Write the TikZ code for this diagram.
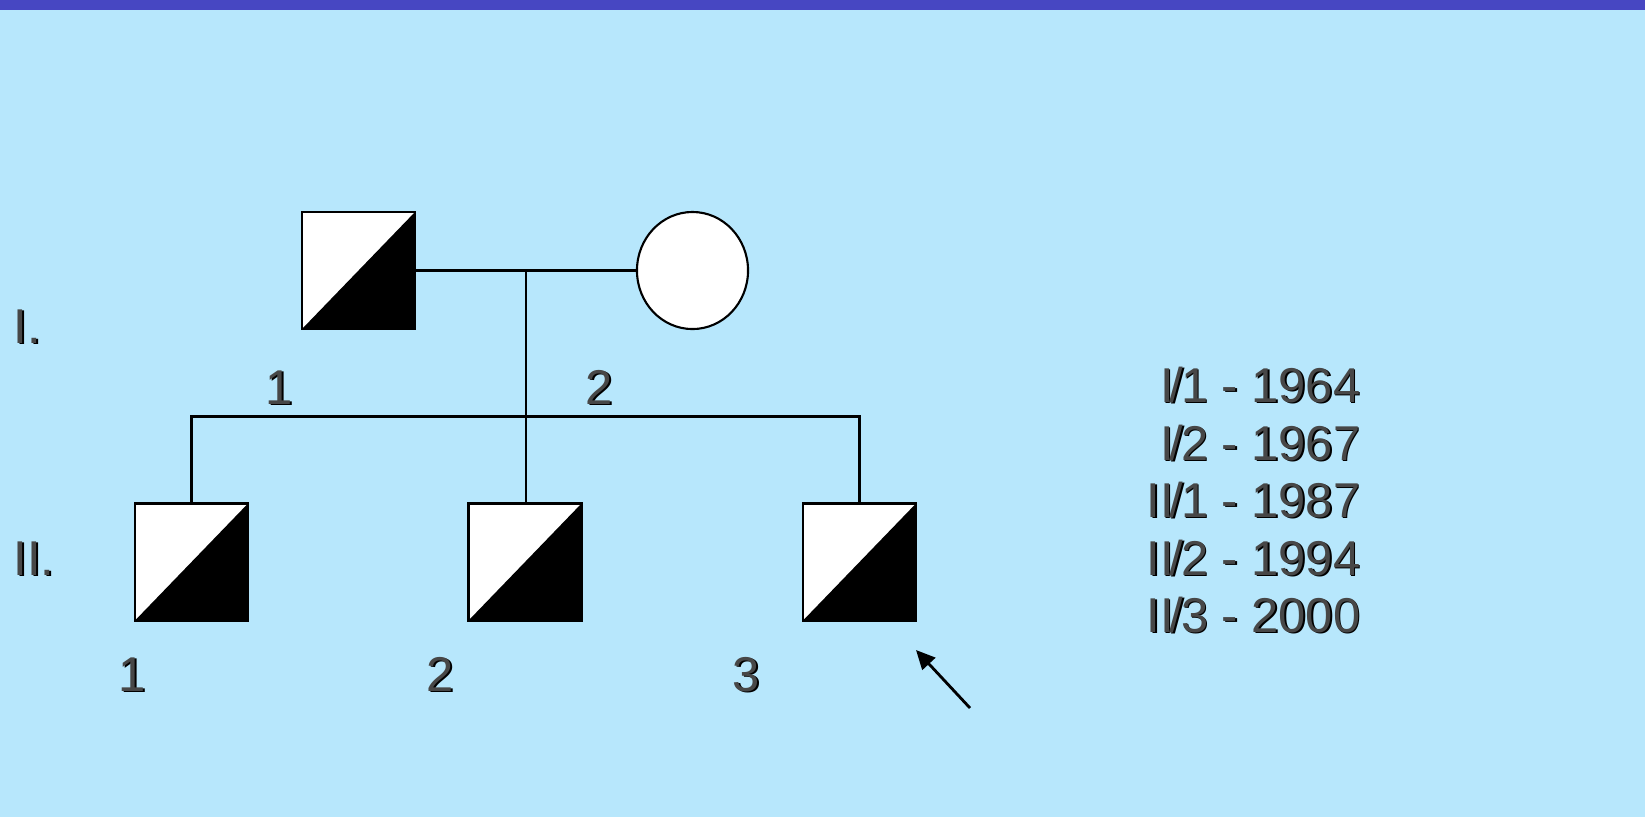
\documentclass[tikz,border=0pt]{standalone}
\usepackage{fontspec}
\setmainfont{Liberation Sans}
\usepackage{tikz}
\usetikzlibrary{arrows.meta, positioning, shapes.geometric, calc}
\definecolor{pedbg}{HTML}{B7E7FC}
\definecolor{pedbar}{HTML}{4747C2}
\definecolor{pedtext}{HTML}{474747}
\newcommand{\shadowtxt}[1]{\makebox[0pt][l]{\hspace{0.5pt}\raisebox{-0.5pt}{\color{black}#1}}#1}
\newcommand{\yslash}{\kern-0.09em/\kern-0.04em}

\begin{document}
\begin{tikzpicture}[x=0.01cm, y=-0.01cm,
  affected/.style={draw, line width=0.6pt, fill=white, minimum width=1.13cm, minimum height=1.17cm, inner sep=0pt,
    path picture={\fill[black] (path picture bounding box.south west) -- (path picture bounding box.north east)
      -- (path picture bounding box.south east) -- cycle;}},
  female/.style={ellipse, draw, line width=0.6pt, fill=white, minimum width=1.11cm, minimum height=1.17cm, inner sep=0pt},
  lbl/.style={text=pedtext, font=\fontsize{13.9}{16}\selectfont, inner sep=0pt, anchor=base},
  kin/.style={line width=0.6pt}]
  % background
  \useasboundingbox (0,0) rectangle (1645,817);
  \fill[pedbg] (0,0) rectangle (1645,817);
  \fill[pedbar] (0,0) rectangle (1645,10);
  % generation I
  \node[affected] (I1) at (358.5,270.5) {};
  \node[female] (I2) at (692.5,270.5) {};
  \node[lbl] (lblI1) at (279,404) {\shadowtxt{1}};
  \node[lbl] (lblI2) at (599,404) {\shadowtxt{2}};
  % generation II
  \foreach \n/\x/\lx in {1/191.5/132, 2/525/440, 3/859.5/746} {
    \node[affected] (II\n) at (\x,562) {};
    \node[lbl] (lblII\n) at (\lx,691) {\shadowtxt{\n}};
  }
  % generation numerals
  \node[lbl, anchor=base west] (genI) at (13,343) {\shadowtxt{I.}};
  \node[lbl, anchor=base west] (genII) at (13,575) {\shadowtxt{II.}};
  % lines
  \coordinate (mate) at ($(I1.east)!0.5!(I2.west)$);
  \coordinate (sib) at (mate |- 0,416.5);
  \draw[kin] (I1.east) -- (I2.west);
  \draw[kin] (mate) -- (mate |- II2.north);
  \draw[kin] (II1.north) |- (sib) -| (II3.north);
  % proband arrow
  \coordinate (arrtail) at (970,708);
  \coordinate (arrtip) at (916,650);
  \draw[line width=0.8pt, -{Triangle[length=5.4pt, width=5pt]}] (arrtail) -- (arrtip);
  % birth years
  \foreach \i/\t/\y in {1/I\yslash 1 - 1964/402, 2/I\yslash 2 - 1967/460, 3/II\yslash 1 - 1987/517,
      4/II\yslash 2 - 1994/575, 5/II\yslash 3 - 2000/632}
    \node[lbl, anchor=base east] (year\i) at (1361,\y) {\shadowtxt{\t}};
\end{tikzpicture}
\end{document}
